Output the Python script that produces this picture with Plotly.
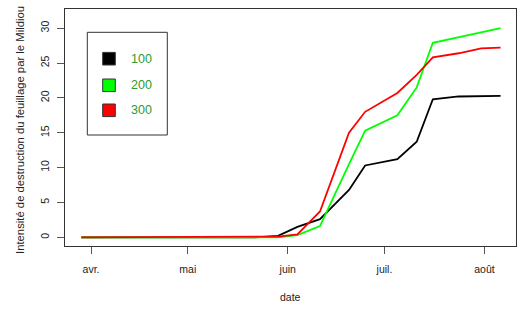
import plotly.graph_objects as go

dates = ["2023-03-29", "2023-05-22", "2023-05-29", "2023-06-04", "2023-06-11",
         "2023-06-20", "2023-06-25", "2023-07-05", "2023-07-11", "2023-07-16",
         "2023-07-24", "2023-07-31", "2023-08-06"]
s100 = [0, 0, 0.2, 1.5, 2.6, 6.8, 10.3, 11.2, 13.7, 19.8, 20.2, 20.3, 20.3]
s200 = [0, 0, 0, 0.3, 1.6, 10.5, 15.3, 17.5, 21.5, 27.9, 28.7, 29.5, 30.0]
s300 = [0, 0.1, 0.1, 0.4, 3.7, 15.0, 18.0, 20.7, 23.3, 25.8, 26.4, 27.1, 27.2]
names = ["100", "200", "300"]
colors = ["#000000", "#00ff00", "#ff0000"]
month_ticks = ["2023-04-01", "2023-05-01", "2023-06-01", "2023-07-01", "2023-08-01"]
month_labels = ["avr.", "mai", "juin", "juil.", "août"]
y_ticks = [0, 5, 10, 15, 20, 25, 30]

W, H = 525, 326
ML, MR, MT, MB = 65, 9, 9, 80
pw, ph = W - ML - MR, H - MT - MB

def px(x):
    return (x - ML) / pw

def py(y):
    return (H - MB - y) / ph

fig = go.Figure()
for vals, c, n in zip([s100, s200, s300], colors, names):
    fig.add_trace(go.Scatter(x=dates, y=vals, mode="lines", name=n,
                             line=dict(color=c, width=1.8), showlegend=False))

font = "Liberation Sans, Arial, sans-serif"
tc = "#222222"

# legend box
shapes = [dict(type="rect", xref="paper", yref="paper",
               x0=px(87.3), x1=px(167.3), y0=py(135), y1=py(32.3),
               line=dict(color="#333333", width=1), fillcolor="rgba(0,0,0,0)")]
annotations = []
centers = [58.7, 85.3, 110.3]
for c, n, yc in zip(colors, names, centers):
    shapes.append(dict(type="rect", xref="paper", yref="paper",
                       x0=px(102.7), x1=px(115.3), y0=py(yc + 6.3), y1=py(yc - 6.3),
                       line=dict(color="#333333", width=1), fillcolor=c))
    annotations.append(dict(text=n, xref="paper", yref="paper", x=px(129), y=py(yc),
                            xanchor="left", yanchor="middle", showarrow=False,
                            font=dict(family=font, size=12.5, color="#2e9a2e")))

annotations.append(dict(text="Intensité de destruction du feuillage par le Mildiou",
                        xref="paper", yref="paper", x=px(19.5), y=py(130.5), textangle=-90,
                        xanchor="center", yanchor="middle", showarrow=False,
                        font=dict(family=font, size=11.3, color=tc)))
annotations.append(dict(text="date", xref="paper", yref="paper", x=0.5, y=py(296.5),
                        xanchor="center", yanchor="middle", showarrow=False,
                        font=dict(family=font, size=10.5, color=tc)))

fig.update_layout(
    width=W, height=H,
    margin=dict(l=ML, r=MR, t=MT, b=MB),
    paper_bgcolor="white", plot_bgcolor="white",
    shapes=shapes, annotations=annotations,
    xaxis=dict(type="date", range=["2023-03-23 22:00", "2023-08-10 19:00"],
               tickvals=month_ticks, ticktext=month_labels,
               showgrid=False, zeroline=False, showline=True, mirror=True,
               linecolor="#333333", linewidth=1, ticks="outside", ticklen=7,
               tickcolor="#555555", ticklabelstandoff=6,
               tickfont=dict(family=font, size=10.5, color=tc)),
    yaxis=dict(range=[-1.25, 32.75], tickvals=y_ticks, tickangle=-90,
               showgrid=False, zeroline=False, showline=True, mirror=True,
               linecolor="#333333", linewidth=1, ticks="outside", ticklen=7,
               tickcolor="#555555", ticklabelstandoff=4,
               tickfont=dict(family=font, size=10.5, color=tc)),
)

fig.write_html("out.html")
